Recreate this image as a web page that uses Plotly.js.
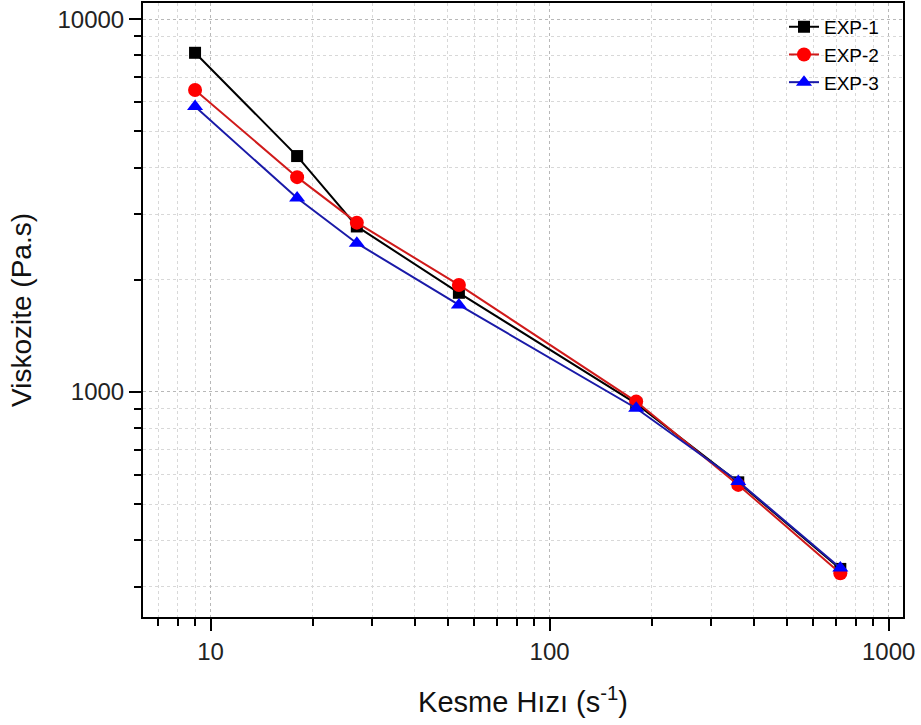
<!DOCTYPE html>
<html>
<head>
<meta charset="utf-8">
<script src="https://cdn.plot.ly/plotly-3.0.1.min.js"></script>
<style>html,body{margin:0;padding:0;background:#fff;}#chart{width:921px;height:725px;}</style>
</head>
<body>
<div id="chart"></div>
<script>
// Shear rate (s^-1)
const shearRate = [9, 18, 27, 54, 180, 360, 720];
// Viscosity (Pa.s)
const exp1 = [8130, 4295, 2780, 1845, 930, 572, 335];
const exp2 = [6460, 3770, 2846, 1937, 942, 563, 326];
const exp3 = [5830, 3313, 2507, 1712, 904, 575, 337];
const seriesNames = ['EXP-1', 'EXP-2', 'EXP-3'];
const xTickVals = [10, 100, 1000];
const xTickText = ['10', '100', '1000'];
const yTickVals = [1000, 10000];
const yTickText = ['1000', '10000'];

function minorVals(lo, hi) {
  const out = [];
  for (let d = 1; d <= 10000; d *= 10) {
    for (let k = 2; k <= 9; k++) {
      const v = k * d;
      if (v >= lo && v <= hi) out.push(v);
    }
  }
  return out;
}

const font = 'Liberation Sans, Arial, sans-serif';

const traces = [
  {x: shearRate, y: exp1, name: seriesNames[0], mode: 'lines+markers',
   line: {color: '#000000', width: 2},
   marker: {symbol: 'square', size: 12, color: '#000000'}},
  {x: shearRate, y: exp2, name: seriesNames[1], mode: 'lines+markers',
   line: {color: '#d01a1a', width: 2},
   marker: {symbol: 'circle', size: 14, color: '#ff0000'}},
  {x: shearRate, y: exp3, name: seriesNames[2], mode: 'lines+markers',
   line: {color: '#1a1aa8', width: 2},
   marker: {symbol: 'triangle-up', size: 14, color: '#0000ff'}}
];

const layout = {
  width: 921, height: 725,
  margin: {l: 143, r: 18, t: 3, b: 108},
  paper_bgcolor: '#ffffff', plot_bgcolor: '#ffffff',
  font: {family: font, color: '#000000'},
  showlegend: true,
  legend: {x: 0.975, y: 0.992, xanchor: 'right', yanchor: 'top',
           bgcolor: 'rgba(255,255,255,0)', borderwidth: 0,
           font: {family: font, size: 19, color: '#000'},
           tracegroupgap: 0},
  xaxis: {
    type: 'log', range: [Math.log10(6.32), Math.log10(1102)],
    tickmode: 'array', tickvals: xTickVals, ticktext: xTickText,
    ticks: 'outside', ticklen: 12, tickwidth: 2, tickcolor: '#000',
    tickfont: {family: font, size: 24, color: '#222'},
    showline: true, linecolor: '#000', linewidth: 2, mirror: true,
    showgrid: true, gridcolor: '#b8b8b8', griddash: 'dot', gridwidth: 1,
    zeroline: false,
    minor: {tickmode: 'array', tickvals: minorVals(6.32, 1102), ticks: 'outside',
            ticklen: 7, tickwidth: 2, tickcolor: '#000',
            showgrid: true, gridcolor: '#d8d8d8', griddash: 'dot', gridwidth: 1},
    title: {text: 'Kesme Hızı (s<sup>-1</sup>)', font: {family: font, size: 29, color: '#111'}, standoff: 28}
  },
  yaxis: {
    type: 'log', range: [2.396, 4.0437],
    tickmode: 'array', tickvals: yTickVals, ticktext: yTickText,
    ticks: 'outside', ticklen: 12, tickwidth: 2, tickcolor: '#000',
    tickfont: {family: font, size: 24, color: '#222'},
    showline: true, linecolor: '#000', linewidth: 2, mirror: true,
    showgrid: true, gridcolor: '#b8b8b8', griddash: 'dot', gridwidth: 1,
    zeroline: false,
    minor: {tickmode: 'array', tickvals: minorVals(249, 11058), ticks: 'outside',
            ticklen: 7, tickwidth: 2, tickcolor: '#000',
            showgrid: true, gridcolor: '#d8d8d8', griddash: 'dot', gridwidth: 1},
    title: {text: 'Viskozite (Pa.s)', font: {family: font, size: 28, color: '#111'}, standoff: 18}
  }
};

Plotly.newPlot('chart', traces, layout, {displayModeBar: false, staticPlot: true});
</script>
</body>
</html>
